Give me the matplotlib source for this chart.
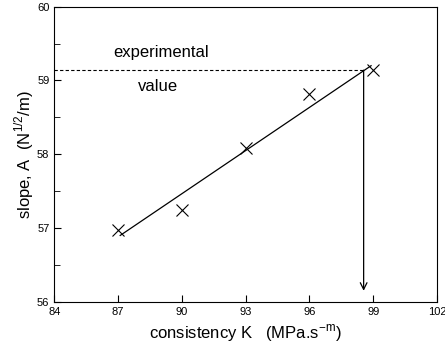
import numpy as np
import matplotlib.pyplot as plt
from matplotlib.ticker import MultipleLocator

plt.rcParams['font.family'] = ['Liberation Sans', 'DejaVu Sans']
plt.rcParams['mathtext.fontset'] = 'custom'
plt.rcParams['mathtext.rm'] = 'Liberation Sans'

# measured points
K = [87, 90, 93, 96, 99]
A = [56.97, 57.25, 58.08, 58.82, 59.14]

# fitted line end points
fit_K = [87.1, 98.9]
fit_A = [56.9, 59.2]

A_exp = 59.14
K_pred = 98.55

fig = plt.figure(figsize=(4.45, 3.51), dpi=100)
ax = fig.add_axes([0.122, 0.14, 0.86, 0.841])

ax.plot(K, A, 'x', color='black', ms=8, mew=0.8)
ax.plot(fit_K, fit_A, '-', color='black', lw=0.9)
ax.plot([84, K_pred], [A_exp, A_exp], '--', color='black', lw=0.8, dashes=(3, 2))
ax.annotate('', xy=(K_pred, 56.15), xytext=(K_pred, A_exp),
            arrowprops=dict(arrowstyle='->', color='black', lw=0.9,
                            shrinkA=0, shrinkB=0, mutation_scale=12))

ax.text(89.0, 59.38, 'experimental', ha='center', va='center', fontsize=12)
ax.text(88.9, 58.92, 'value', ha='center', va='center', fontsize=12)

ax.set_xlim(84, 102)
ax.set_ylim(56, 60)
ax.xaxis.set_major_locator(MultipleLocator(3))
ax.yaxis.set_major_locator(MultipleLocator(1))
ax.yaxis.set_minor_locator(MultipleLocator(0.5))
ax.tick_params(direction='in', labelsize=8, top=False, right=False, length=5)
ax.tick_params(which='minor', direction='in', length=4, top=False, right=False)

ax.set_xlabel(r'consistency K   (MPa.s$^{\mathrm{-m}}$)', fontsize=12)
ax.set_ylabel(r'slope, A  (N$^{\mathrm{1/2}}$/m)', fontsize=12, labelpad=1)

plt.savefig('out.png', dpi=100)
